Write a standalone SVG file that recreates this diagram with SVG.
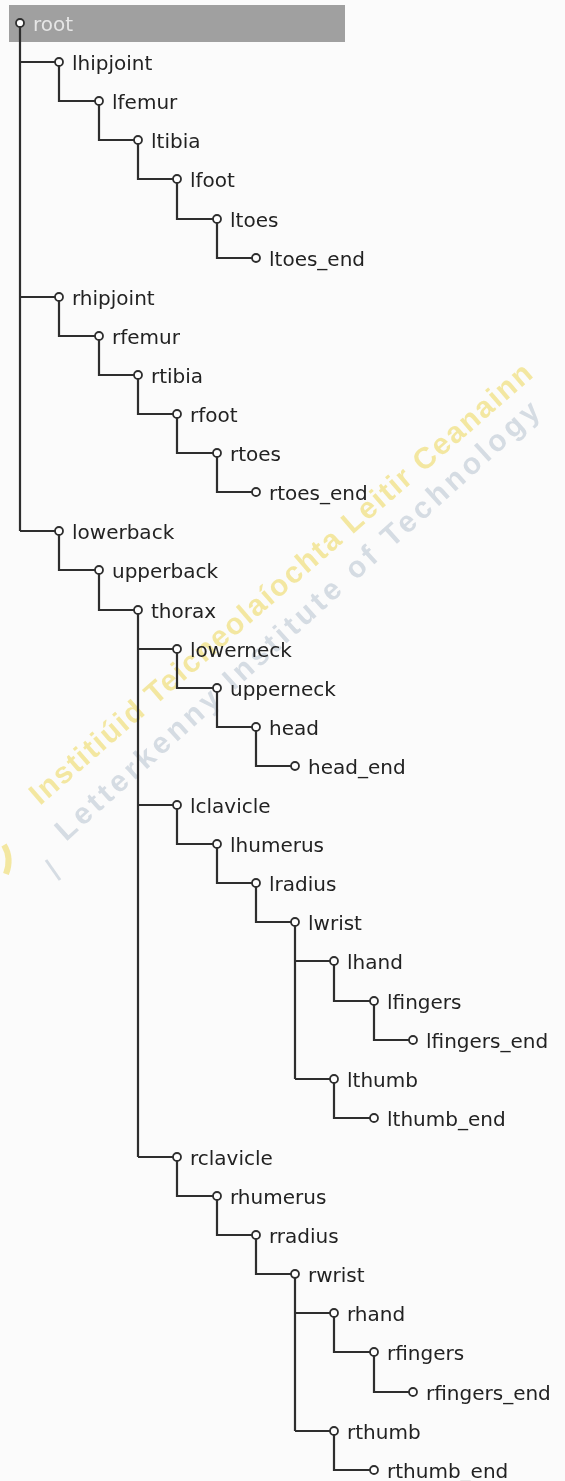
<svg xmlns="http://www.w3.org/2000/svg" width="565" height="1481" viewBox="0 0 565 1481">
<style>
.bg{fill:#fbfbfb}
.c{stroke:#2e2e2e;stroke-width:2.2;fill:none}
.n circle{fill:#fff;stroke:#2e2e2e;stroke-width:1.8}
.n text{font-family:"DejaVu Sans",sans-serif;font-size:20px;fill:#222}
.wm{font-family:"Liberation Sans",Arial,sans-serif;font-weight:bold;font-size:30px}
</style>
<rect class="bg" x="0" y="0" width="565" height="1481"/>
<g id="watermark" opacity="0.7">
<text class="wm" fill="#f0df7a" transform="translate(40,806) rotate(-41)" textLength="655" lengthAdjust="spacing">Institiúid Teicneolaíochta Leitir Ceanainn</text>
<text class="wm" fill="#c5ced8" transform="translate(66,842) rotate(-42)" textLength="640" lengthAdjust="spacing">Letterkenny Institute of Technology</text>
<path d="M4 845 Q12 858 6 874" stroke="#f0df7a" stroke-width="6" fill="none"/>
<path d="M46 860 L60 880" stroke="#c5ced8" stroke-width="3" fill="none"/>
</g>
<rect id="rootbar" x="9" y="5" width="336" height="37" fill="#a0a0a0"/>
<g id="connectors" class="c">
<path d="M20 27V531M20 62H55M20 297H55M20 531H55"/>
<path d="M59 66V101H95"/>
<path d="M99 105V140H134"/>
<path d="M138 144V179H173"/>
<path d="M177 183V219H213"/>
<path d="M217 223V258H252"/>
<path d="M59 301V336H95"/>
<path d="M99 340V375H134"/>
<path d="M138 379V414H173"/>
<path d="M177 418V453H213"/>
<path d="M217 457V492H252"/>
<path d="M59 535V570H95"/>
<path d="M99 574V610H134"/>
<path d="M138 614V1157M138 649H173M138 805H173M138 1157H173"/>
<path d="M177 653V688H213"/>
<path d="M217 692V727H252"/>
<path d="M256 731V766H291"/>
<path d="M177 809V844H213"/>
<path d="M217 848V883H252"/>
<path d="M256 887V922H291"/>
<path d="M295 926V1079M295 961H330M295 1079H330"/>
<path d="M334 965V1001H370"/>
<path d="M374 1005V1040H409"/>
<path d="M334 1083V1118H370"/>
<path d="M177 1161V1196H213"/>
<path d="M217 1200V1235H252"/>
<path d="M256 1239V1274H291"/>
<path d="M295 1278V1431M295 1313H330M295 1431H330"/>
<path d="M334 1317V1352H370"/>
<path d="M374 1356V1392H409"/>
<path d="M334 1435V1470H370"/>
</g>
<g id="root" class="n"><circle cx="20" cy="23" r="4"/><text x="33" y="31" style="fill:#e6e6e6">root</text></g>
<g id="lhipjoint" class="n"><circle cx="59" cy="62" r="4"/><text x="72" y="70">lhipjoint</text></g>
<g id="lfemur" class="n"><circle cx="99" cy="101" r="4"/><text x="112" y="109">lfemur</text></g>
<g id="ltibia" class="n"><circle cx="138" cy="140" r="4"/><text x="151" y="148">ltibia</text></g>
<g id="lfoot" class="n"><circle cx="177" cy="179" r="4"/><text x="190" y="187">lfoot</text></g>
<g id="ltoes" class="n"><circle cx="217" cy="219" r="4"/><text x="230" y="227">ltoes</text></g>
<g id="ltoes_end" class="n"><circle cx="256" cy="258" r="4"/><text x="269" y="266">ltoes_end</text></g>
<g id="rhipjoint" class="n"><circle cx="59" cy="297" r="4"/><text x="72" y="305">rhipjoint</text></g>
<g id="rfemur" class="n"><circle cx="99" cy="336" r="4"/><text x="112" y="344">rfemur</text></g>
<g id="rtibia" class="n"><circle cx="138" cy="375" r="4"/><text x="151" y="383">rtibia</text></g>
<g id="rfoot" class="n"><circle cx="177" cy="414" r="4"/><text x="190" y="422">rfoot</text></g>
<g id="rtoes" class="n"><circle cx="217" cy="453" r="4"/><text x="230" y="461">rtoes</text></g>
<g id="rtoes_end" class="n"><circle cx="256" cy="492" r="4"/><text x="269" y="500">rtoes_end</text></g>
<g id="lowerback" class="n"><circle cx="59" cy="531" r="4"/><text x="72" y="539">lowerback</text></g>
<g id="upperback" class="n"><circle cx="99" cy="570" r="4"/><text x="112" y="578">upperback</text></g>
<g id="thorax" class="n"><circle cx="138" cy="610" r="4"/><text x="151" y="618">thorax</text></g>
<g id="lowerneck" class="n"><circle cx="177" cy="649" r="4"/><text x="190" y="657">lowerneck</text></g>
<g id="upperneck" class="n"><circle cx="217" cy="688" r="4"/><text x="230" y="696">upperneck</text></g>
<g id="head" class="n"><circle cx="256" cy="727" r="4"/><text x="269" y="735">head</text></g>
<g id="head_end" class="n"><circle cx="295" cy="766" r="4"/><text x="308" y="774">head_end</text></g>
<g id="lclavicle" class="n"><circle cx="177" cy="805" r="4"/><text x="190" y="813">lclavicle</text></g>
<g id="lhumerus" class="n"><circle cx="217" cy="844" r="4"/><text x="230" y="852">lhumerus</text></g>
<g id="lradius" class="n"><circle cx="256" cy="883" r="4"/><text x="269" y="891">lradius</text></g>
<g id="lwrist" class="n"><circle cx="295" cy="922" r="4"/><text x="308" y="930">lwrist</text></g>
<g id="lhand" class="n"><circle cx="334" cy="961" r="4"/><text x="347" y="969">lhand</text></g>
<g id="lfingers" class="n"><circle cx="374" cy="1001" r="4"/><text x="387" y="1009">lfingers</text></g>
<g id="lfingers_end" class="n"><circle cx="413" cy="1040" r="4"/><text x="426" y="1048">lfingers_end</text></g>
<g id="lthumb" class="n"><circle cx="334" cy="1079" r="4"/><text x="347" y="1087">lthumb</text></g>
<g id="lthumb_end" class="n"><circle cx="374" cy="1118" r="4"/><text x="387" y="1126">lthumb_end</text></g>
<g id="rclavicle" class="n"><circle cx="177" cy="1157" r="4"/><text x="190" y="1165">rclavicle</text></g>
<g id="rhumerus" class="n"><circle cx="217" cy="1196" r="4"/><text x="230" y="1204">rhumerus</text></g>
<g id="rradius" class="n"><circle cx="256" cy="1235" r="4"/><text x="269" y="1243">rradius</text></g>
<g id="rwrist" class="n"><circle cx="295" cy="1274" r="4"/><text x="308" y="1282">rwrist</text></g>
<g id="rhand" class="n"><circle cx="334" cy="1313" r="4"/><text x="347" y="1321">rhand</text></g>
<g id="rfingers" class="n"><circle cx="374" cy="1352" r="4"/><text x="387" y="1360">rfingers</text></g>
<g id="rfingers_end" class="n"><circle cx="413" cy="1392" r="4"/><text x="426" y="1400">rfingers_end</text></g>
<g id="rthumb" class="n"><circle cx="334" cy="1431" r="4"/><text x="347" y="1439">rthumb</text></g>
<g id="rthumb_end" class="n"><circle cx="374" cy="1470" r="4"/><text x="387" y="1478">rthumb_end</text></g>
</svg>
